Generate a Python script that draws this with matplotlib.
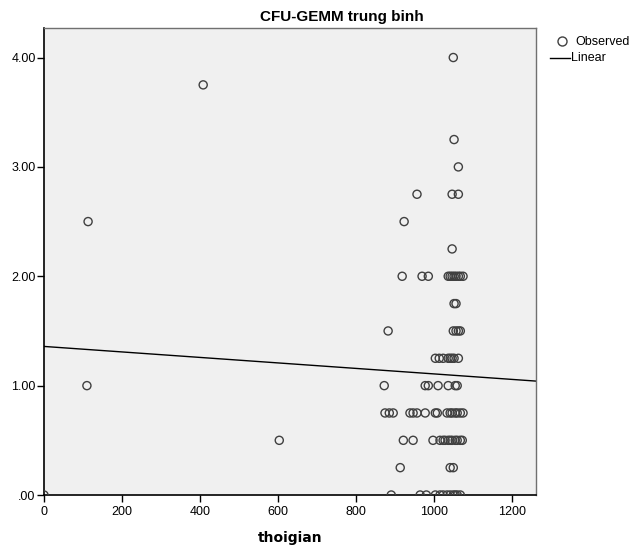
import numpy as np
import matplotlib
matplotlib.use("Agg")
import matplotlib.pyplot as plt
from matplotlib.lines import Line2D

# Data (thoigian, CFU-GEMM trung binh), grouped by y level
rows = {
    4.00: [1049],
    3.75: [408],
    3.25: [1051],
    3.00: [1062],
    2.75: [956, 1046, 1062],
    2.50: [113, 923],
    2.25: [1046],
    2.00: [918, 969, 985, 1036, 1041, 1046, 1051, 1056, 1062, 1067, 1074],
    1.75: [1051, 1056],
    1.50: [882, 1049, 1056, 1062, 1067],
    1.25: [1003, 1013, 1023, 1036, 1041, 1046, 1051, 1062],
    1.00: [110, 872, 977, 985, 1010, 1036, 1054, 1059],
    0.75: [874, 885, 895, 938, 946, 956, 977, 1003, 1008, 1033, 1041, 1046, 1054, 1059, 1067, 1074],
    0.50: [603, 921, 946, 997, 1015, 1023, 1028, 1036, 1041, 1046, 1054, 1059, 1067, 1072],
    0.25: [913, 1041, 1049],
    0.00: [0, 890, 964, 980, 1003, 1015, 1023, 1033, 1041, 1049, 1054, 1059, 1067],
}
thoigian = np.array([x for yv, xs in rows.items() for x in xs], dtype=float)
cfu = np.array([yv for yv, xs in rows.items() for x in xs], dtype=float)

x_ticks = [0, 200, 400, 600, 800, 1000, 1200]
y_ticks = [0, 1, 2, 3, 4]
y_ticklabels = [".00", "1.00", "2.00", "3.00", "4.00"]
title = "CFU-GEMM trung binh"
xlabel = "thoigian"
legend_labels = ["Observed", "Linear"]

plt.rcParams['font.family'] = ['Liberation Sans', 'DejaVu Sans']

W, H = 630, 549
fig = plt.figure(figsize=(6.3, 5.49), dpi=100)
ax = fig.add_axes([44/W, 1 - 495/H, (536-44)/W, (495-28)/H])
ax.set_facecolor('#f0f0f0')

xmin, xmax = 0, 1261
ymin, ymax = 0, 4.27

ax.scatter(thoigian, cfu, s=34, facecolors='none', edgecolors='#404040',
           linewidths=1.0, zorder=3, clip_on=True)

slope, intercept = np.polyfit(thoigian, cfu, 1)
xl = np.array([xmin, xmax])
ax.plot(xl, intercept + slope * xl, color='black', lw=1.0, zorder=2)

ax.set_xlim(xmin, xmax)
ax.set_ylim(ymin, ymax)
ax.set_xticks(x_ticks)
ax.set_xticklabels([str(t) for t in x_ticks])
ax.set_yticks(y_ticks)
ax.set_yticklabels(y_ticklabels)
ax.tick_params(axis='both', direction='out', length=5, width=1, labelsize=9, colors='black')
ax.tick_params(axis='x', pad=3)
ax.tick_params(axis='y', pad=1)
for s in ['left', 'bottom']:
    ax.spines[s].set_color('black')
    ax.spines[s].set_linewidth(1.2)
for s in ['top', 'right']:
    ax.spines[s].set_color('#707070')
    ax.spines[s].set_linewidth(1.0)

ax.set_xlabel(xlabel, fontsize=10, fontweight='bold', family='DejaVu Sans', labelpad=9)
fig.text(342/W, 1 - 17/H, title, ha='center', va='center', fontsize=11, fontweight='bold')

# Legend (outside, top-right)
fig.add_artist(Line2D([562/W], [1 - 41/H], marker='o', ls='none', mfc='none',
                      mec='#404040', ms=6.5, mew=1.0, transform=fig.transFigure))
fig.text(575/W, 1 - 42/H, legend_labels[0], ha='left', va='center', fontsize=9)
fig.add_artist(Line2D([550/W, 570/W], [1 - 58/H, 1 - 58/H], color='black', lw=1.0,
                      transform=fig.transFigure))
fig.text(571/W, 1 - 58/H, legend_labels[1], ha='left', va='center', fontsize=9)

fig.savefig('out.png', dpi=100, facecolor='white')
